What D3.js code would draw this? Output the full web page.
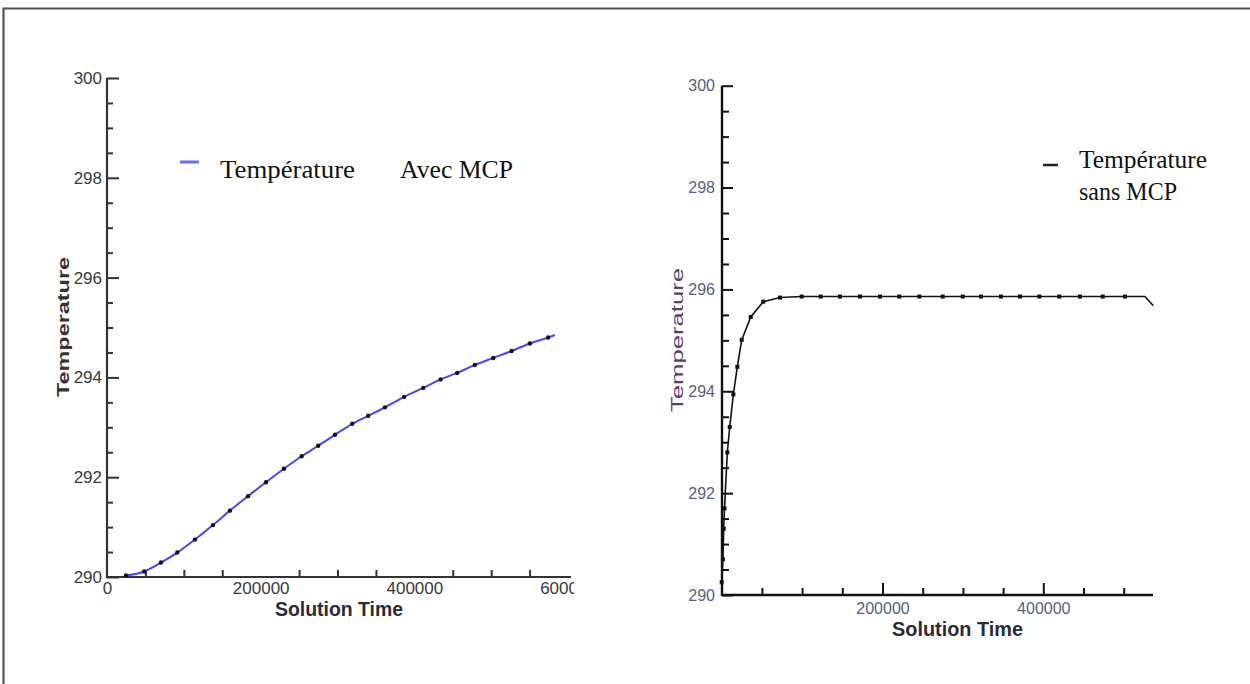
<!DOCTYPE html>
<html><head><meta charset="utf-8">
<script src="https://cdn.jsdelivr.net/npm/d3@7"></script>
<style>body{margin:0;background:#fff;} svg{display:block}</style>
</head><body>
<svg id="c" width="1250" height="684"></svg>
<script>
// ---- data ----
const leftTime = [24700, 48500, 70300, 91500, 114500, 137900, 160000, 183500, 206900, 230300, 253300, 274900, 296700, 319200, 340000, 361700, 386800, 411600, 434200, 455800, 478800, 502700, 526600, 550400, 574200, 583000];
const leftTemp = [290.03, 290.11, 290.29, 290.49, 290.75, 291.04, 291.33, 291.62, 291.90, 292.17, 292.42, 292.63, 292.85, 293.07, 293.23, 293.40, 293.61, 293.79, 293.96, 294.09, 294.25, 294.39, 294.53, 294.68, 294.80, 294.85];
const rightTime = [0, 1500, 2500, 3500, 7000, 10000, 14500, 19400, 24900, 36100, 51700, 72500, 99500, 123100, 147100, 172000, 196900, 220900, 245800, 274900, 299800, 322500, 347400, 371000, 395000, 419900, 445600, 473900, 501600, 526500, 536800];
const rightTemp = [290.25, 290.7, 291.3, 291.7, 292.8, 293.3, 293.94, 294.48, 295.01, 295.46, 295.76, 295.84, 295.86, 295.86, 295.86, 295.86, 295.86, 295.86, 295.86, 295.86, 295.86, 295.86, 295.86, 295.86, 295.86, 295.86, 295.86, 295.86, 295.86, 295.86, 295.68];
const leftXTicks = [0, 200000, 400000, 600000];
const leftYTicks = [290, 292, 294, 296, 298, 300];
const rightXTicks = [200000, 400000];
const rightYTicks = [290, 292, 294, 296, 298, 300];
const legendLeft = ["Température", "Avec MCP"];
const legendRight = ["Température", "sans MCP"];

const svg = d3.select('#c');
svg.append('rect').attr('width', 1250).attr('height', 684).attr('fill', '#fff');
svg.append('path').attr('d', 'M3.5,684 V8.5 H1250').attr('fill', 'none').attr('stroke', '#555').attr('stroke-width', 2.2);

const sans = "'Liberation Sans', Arial, sans-serif";
const serif = "'Liberation Serif', 'Times New Roman', serif";

function styleAxis(g, color, labelColor, fs) {
  g.select('.domain').remove();
  g.selectAll('.tick line').attr('stroke', color).attr('stroke-width', 2);
  g.selectAll('.tick text').attr('fill', labelColor).attr('font-family', sans).attr('font-size', fs);
}

// ---- LEFT PANEL ----
const xL = d3.scaleLinear().domain([0, 600000]).range([107, 568]);
const yL = d3.scaleLinear().domain([290, 300]).range([577, 78]);
const defs = svg.append('defs');
defs.append('clipPath').attr('id', 'clipL').append('rect').attr('x', 0).attr('y', 0).attr('width', 574).attr('height', 684);

const gL = svg.append('g');
const lMinX = d3.range(50000, 600000, 50000).filter(d => d % 200000 !== 0);
const lMinY = d3.range(290.5, 300, 0.5).filter(d => Math.abs(d % 2) > 1e-6);

gL.append('g').attr('transform', 'translate(0,577)')
  .call(d3.axisBottom(xL).tickValues(lMinX).tickSize(-7).tickFormat(''))
  .call(g => styleAxis(g, '#333', '#333', 17));
gL.append('g').attr('transform', 'translate(0,577)').attr('clip-path', 'url(#clipL)')
  .call(d3.axisBottom(xL).tickValues(leftXTicks).tickSize(-13).tickSizeOuter(0).tickPadding(5).tickFormat(d3.format('d')))
  .call(g => styleAxis(g, '#333', '#3a3a3a', 17));
gL.append('g').attr('transform', 'translate(107,0)')
  .call(d3.axisLeft(yL).tickValues(lMinY).tickSize(-6).tickFormat(''))
  .call(g => styleAxis(g, '#333', '#333', 17));
gL.append('g').attr('transform', 'translate(107,0)')
  .call(d3.axisLeft(yL).tickValues(leftYTicks).tickSize(-12).tickSizeOuter(0).tickPadding(5).tickFormat(d3.format('d')))
  .call(g => styleAxis(g, '#333', '#3a3a3a', 17));
// axis lines
gL.append('line').attr('x1', xL(0)).attr('x2', 571).attr('y1', yL(290)).attr('y2', yL(290)).attr('stroke', '#333').attr('stroke-width', 2.2);
gL.append('line').attr('x1', xL(0)).attr('x2', xL(0)).attr('y1', yL(300)).attr('y2', yL(290) + 1).attr('stroke', '#333').attr('stroke-width', 2.2);

const leftPts = leftTime.map((t, i) => [t, leftTemp[i]]);
gL.append('path').datum(leftPts)
  .attr('d', d3.line().x(d => xL(d[0])).y(d => yL(d[1])).curve(d3.curveMonotoneX))
  .attr('fill', 'none').attr('stroke', '#4646f5').attr('stroke-width', 2);
gL.selectAll('circle.m').data(leftPts.slice(0, -1)).join('circle')
  .attr('cx', d => xL(d[0])).attr('cy', d => yL(d[1])).attr('r', 2.2).attr('fill', '#111');

gL.append('text').attr('transform', 'translate(69,327) rotate(-90)').attr('text-anchor', 'middle')
  .attr('font-family', sans).attr('font-weight', 'bold').attr('font-size', 17).attr('fill', '#3b2f30')
  .attr('textLength', 140).attr('lengthAdjust', 'spacingAndGlyphs').text('Temperature');
gL.append('text').attr('x', 339).attr('y', 616).attr('text-anchor', 'middle')
  .attr('font-family', sans).attr('font-weight', 'bold').attr('font-size', 21).attr('fill', '#2b2b35')
  .attr('textLength', 128).attr('lengthAdjust', 'spacingAndGlyphs').text('Solution Time');

// legend left
gL.append('line').attr('x1', 180).attr('x2', 199).attr('y1', 162).attr('y2', 162).attr('stroke', '#6a6aff').attr('stroke-width', 3);
gL.append('text').attr('x', 220).attr('y', 178).attr('font-family', serif).attr('font-size', 25).attr('fill', '#111')
  .attr('textLength', 135).attr('lengthAdjust', 'spacingAndGlyphs').text(legendLeft[0]);
gL.append('text').attr('x', 400).attr('y', 178).attr('font-family', serif).attr('font-size', 25).attr('fill', '#111')
  .attr('textLength', 113).attr('lengthAdjust', 'spacingAndGlyphs').text(legendLeft[1]);

// ---- RIGHT PANEL ----
const xR = d3.scaleLinear().domain([0, 400000]).range([721.7, 1043.3]);
const yR = d3.scaleLinear().domain([290, 300]).range([595, 85.7]);
const gR = svg.append('g');
const rMinX = d3.range(50000, 500001, 50000).filter(d => d % 200000 !== 0);
const rMinY = d3.range(290.5, 300, 0.5).filter(d => Math.abs(d % 2) > 1e-6);

gR.append('g').attr('transform', 'translate(0,595)')
  .call(d3.axisBottom(xR).tickValues(rMinX).tickSize(-7).tickFormat(''))
  .call(g => styleAxis(g, '#111', '#111', 16));
gR.append('g').attr('transform', 'translate(0,595)')
  .call(d3.axisBottom(xR).tickValues(rightXTicks).tickSize(-12).tickSizeOuter(0).tickPadding(8).tickFormat(d3.format('d')))
  .call(g => styleAxis(g, '#111', '#56607c', 16));
gR.append('g').attr('transform', 'translate(722,0)')
  .call(d3.axisLeft(yR).tickValues(rMinY).tickSize(-7).tickFormat(''))
  .call(g => styleAxis(g, '#111', '#111', 16));
gR.append('g').attr('transform', 'translate(722,0)')
  .call(d3.axisLeft(yR).tickValues(rightYTicks).tickSize(-11).tickSizeOuter(0).tickPadding(7).tickFormat(d3.format('d')))
  .call(g => styleAxis(g, '#111', '#56607c', 16));
gR.append('line').attr('x1', xR(0)).attr('x2', 1153).attr('y1', yR(290)).attr('y2', yR(290)).attr('stroke', '#111').attr('stroke-width', 2.6);
gR.append('line').attr('x1', 722).attr('x2', 722).attr('y1', yR(300)).attr('y2', yR(290) + 1).attr('stroke', '#111').attr('stroke-width', 2.4);

const rightPts = rightTime.map((t, i) => [t, rightTemp[i]]);
gR.append('path').datum(rightPts)
  .attr('d', d3.line().x(d => xR(d[0])).y(d => yR(d[1])))
  .attr('fill', 'none').attr('stroke', '#111').attr('stroke-width', 1.6);
gR.selectAll('rect.m').data(rightPts.slice(0, -2)).join('rect')
  .attr('x', d => xR(d[0]) - 2).attr('y', d => yR(d[1]) - 2).attr('width', 4).attr('height', 4).attr('fill', '#111');

gR.append('text').attr('transform', 'translate(683,340) rotate(-90)').attr('text-anchor', 'middle')
  .attr('font-family', sans).attr('font-size', 17).attr('fill', '#5a3d6e')
  .attr('textLength', 144).attr('lengthAdjust', 'spacingAndGlyphs').text('Temperature');
gR.append('text').attr('x', 957.5).attr('y', 636).attr('text-anchor', 'middle')
  .attr('font-family', sans).attr('font-weight', 'bold').attr('font-size', 20).attr('fill', '#2b2b35')
  .attr('textLength', 131).attr('lengthAdjust', 'spacingAndGlyphs').text('Solution Time');

gR.append('line').attr('x1', 1043).attr('x2', 1058).attr('y1', 165).attr('y2', 165).attr('stroke', '#222').attr('stroke-width', 2.5);
gR.append('text').attr('x', 1079).attr('y', 168).attr('font-family', serif).attr('font-size', 25).attr('fill', '#111')
  .attr('textLength', 128).attr('lengthAdjust', 'spacingAndGlyphs').text(legendRight[0]);
gR.append('text').attr('x', 1079).attr('y', 200).attr('font-family', serif).attr('font-size', 25).attr('fill', '#111')
  .attr('textLength', 98).attr('lengthAdjust', 'spacingAndGlyphs').text(legendRight[1]);
</script>
</body></html>
